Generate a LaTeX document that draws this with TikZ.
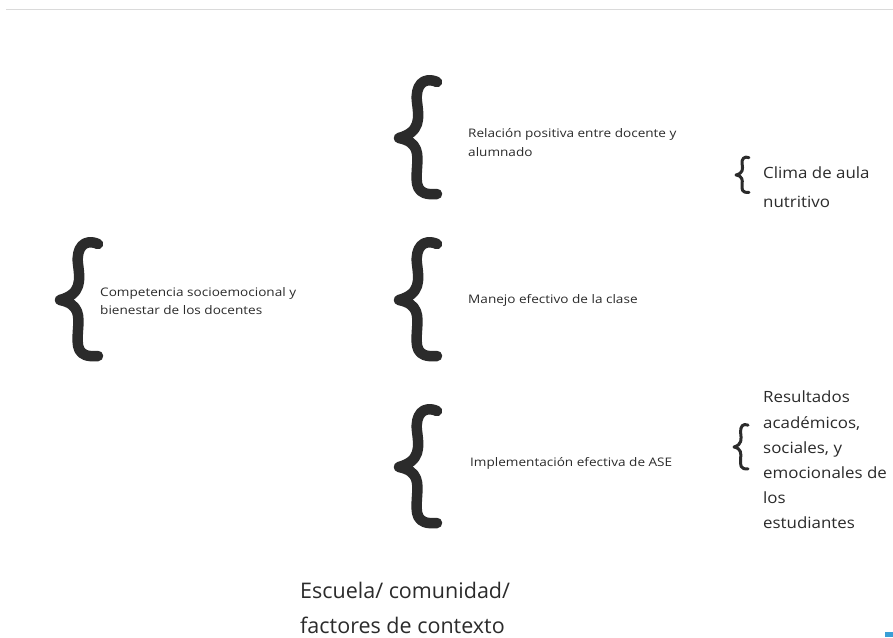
\documentclass[tikz,border=0pt]{standalone}
\usepackage{fontspec}
\setmainfont{Open Sans}
\newfontfamily\handwide[FakeStretch=1.15]{Open Sans}
\newfontfamily\handmid[FakeStretch=1.09]{Open Sans}
\definecolor{ink}{HTML}{2B2B2B}
\definecolor{rule}{HTML}{DADADA}
\definecolor{corner}{HTML}{3A9FD6}
\tikzset{
  bracestyle/.style={draw=ink, line cap=round, line join=round},
  pics/brace/.style={code={
    \draw[bracestyle] (38,-56) .. controls (24,-62) and (16,-52) .. (18,-36)
      .. controls (20,-20) and (22,-6) .. (0,0)
      .. controls (20,4) and (19,16) .. (18,30)
      .. controls (17,46) and (16,58) .. (38,56);
  }},
  smalltxt/.style={anchor=west, align=left, text=ink, inner sep=0pt,
    font=\handwide\fontsize{11.8}{19}\selectfont},
  midtxt/.style={anchor=west, align=left, text=ink, inner sep=0pt,
    font=\handmid\fontsize{15.5}{25.2}\selectfont},
  bigtxt/.style={anchor=west, align=left, text=ink, inner sep=0pt,
    font=\fontsize{21.5}{35}\selectfont},
}
\begin{document}
\begin{tikzpicture}[x=1pt, y=-1pt]
\useasboundingbox (0,0) rectangle (893,637);
\fill[white] (0,0) rectangle (893,637);
% top rule
\draw[rule, line width=1pt] (6,9) -- (893,9);
% big braces
\pic[line width=10.5pt] at (399,138) {brace};
\pic[line width=10.5pt] at (399,300) {brace};
\pic[line width=10.5pt] at (399,467) {brace};
\pic[line width=10.5pt] at (60,300) {brace};
% small braces
\pic[line width=3pt, xscale=0.34, yscale=0.31] at (736,175) {brace};
\pic[line width=3pt, xscale=0.37, yscale=0.39] at (734,447) {brace};
% texts
\node[smalltxt] (rel) at (468,142.5) {Relación positiva entre docente y\\alumnado};
\node[smalltxt] (man) at (468,300) {Manejo efectivo de la clase};
\node[smalltxt] (imp) at (470,463) {Implementación efectiva de ASE};
\node[smalltxt, font=\handwide\fontsize{11.8}{18}\selectfont] (comp) at (100,301) {Competencia socioemocional y\\bienestar de los docentes};
\node[midtxt, font=\handmid\fontsize{15.5}{29}\selectfont] (clima) at (763,187.5) {Clima de aula\\nutritivo};
\node[midtxt] (res) at (763,460) {Resultados\\académicos,\\sociales, y\\emocionales de\\los\\estudiantes};
\node[bigtxt] (esc) at (300,607.5) {Escuela/ comunidad/\\factores de contexto};
% corner mark
\fill[corner] (885,632) rectangle (893,637);
\end{tikzpicture}
\end{document}
